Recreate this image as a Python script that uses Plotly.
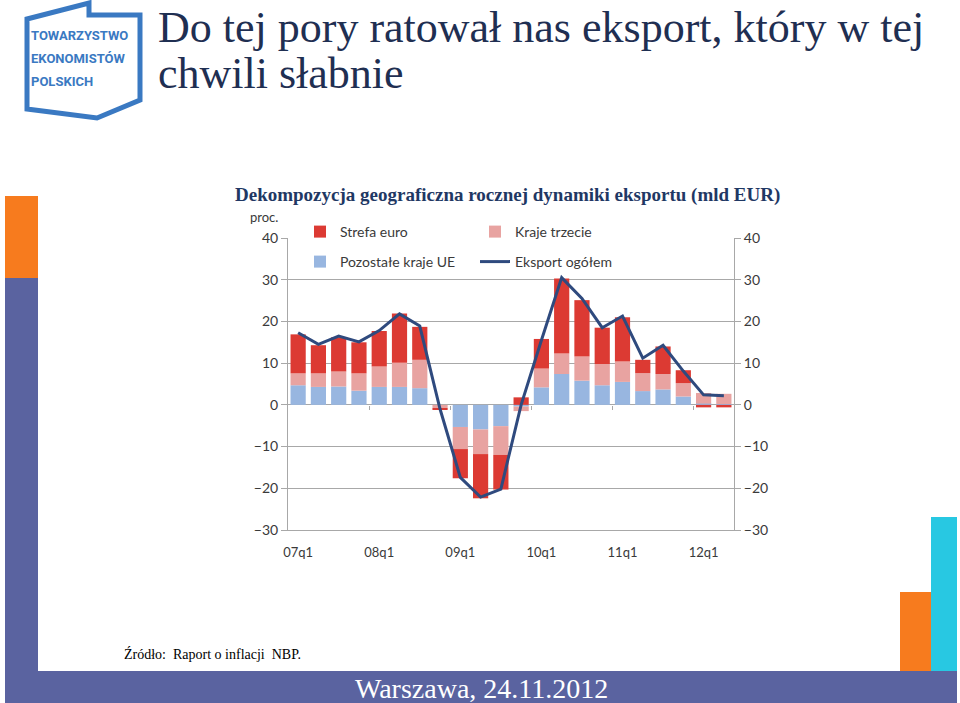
import plotly.graph_objects as go

# ---------------- data ----------------
quarters = ['07q1', '07q2', '07q3', '07q4', '08q1', '08q2', '08q3', '08q4',
            '09q1', '09q2', '09q3', '09q4', '10q1', '10q2', '10q3', '10q4',
            '11q1', '11q2', '11q3', '11q4', '12q1', '12q2']
year_labels = ['07q1', '08q1', '09q1', '10q1', '11q1', '12q1']

pozostale_kraje_ue = [4.7, 4.3, 4.4, 3.4, 4.3, 4.3, 4.0, 0.0,
                      -5.3, -5.9, -5.1, -0.4, 4.2, 7.4, 5.8, 4.7,
                      5.5, 3.3, 3.7, 2.0, 0.3, 0.2]
kraje_trzecie = [2.85, 3.25, 3.6, 4.15, 4.9, 5.8, 6.8, -0.8,
                 -5.3, -5.9, -6.9, -1.1, 4.5, 4.9, 5.8, 5.1,
                 4.9, 4.3, 3.7, 3.2, 2.55, 2.45]
strefa_euro = [9.35, 6.75, 8.2, 7.45, 8.5, 11.8, 7.9, -0.3,
               -7.0, -10.6, -8.3, 1.8, 7.1, 18.0, 13.5, 8.7,
               10.6, 3.2, 6.6, 3.1, -0.6, -0.6]
eksport_ogolem = [17.3, 14.5, 16.5, 15.1, 17.8, 21.8, 18.9, -1.0,
                  -17.4, -22.1, -20.2, 0.0, 15.5, 30.5, 25.5, 18.5,
                  21.3, 11.2, 14.3, 8.1, 2.4, 2.2]
y_ticks = [-30, -20, -10, 0, 10, 20, 30, 40]
logo_lines = ['TOWARZYSTWO', 'EKONOMISTÓW', 'POLSKICH']

# ---------------- geometry helpers (page pixels -> paper) ----------------
W, H = 960, 703
L, R, T, B = 288, 734, 238, 530
Y_MIN, Y_MAX = -30, 40


def px(x):
    return (x - L) / (R - L)


def py(y):
    return (B - y) / (B - T)


RED = '#dc3a33'
PINK = '#e8a3a1'
BLUE = '#98b6e0'
NAVY = '#2f4a7e'
GRID = '#a8a8a8'
TXT = '#3a3a3a'
PURPLE = '#5a63a0'
ORANGE = '#f77b1e'
CYAN = '#28c8e2'
LOGO = '#3a79c2'

fig = go.Figure()
fig.add_trace(go.Bar(x=quarters, y=pozostale_kraje_ue, name='Pozostałe kraje UE',
                     marker=dict(color=BLUE, line=dict(width=0)),
                     legend='legend2', legendrank=3))
fig.add_trace(go.Bar(x=quarters, y=kraje_trzecie, name='Kraje trzecie',
                     marker=dict(color=PINK, line=dict(width=0)),
                     legend='legend', legendrank=2))
fig.add_trace(go.Bar(x=quarters, y=strefa_euro, name='Strefa euro',
                     marker=dict(color=RED, line=dict(width=0)),
                     legend='legend', legendrank=1))
fig.add_trace(go.Scatter(x=quarters, y=eksport_ogolem, name='Eksport ogółem',
                         mode='lines', line=dict(color=NAVY, width=3),
                         yaxis='y2', legend='legend2', legendrank=4))
# helper (empty) trace so that the zero-line tick axis is drawn
fig.add_trace(go.Scatter(x=[None], y=[None], xaxis='x2', yaxis='y',
                         showlegend=False, hoverinfo='skip'))

n = len(quarters)
year_breaks = [i - 0.5 for i in range(4, n, 4)]

axis_font = dict(family='Lato, Open Sans, sans-serif', size=14, color=TXT)

fig.update_layout(
    width=W, height=H,
    margin=dict(l=L, r=W - R, t=T, b=H - B, pad=0),
    paper_bgcolor='white', plot_bgcolor='white',
    barmode='relative', bargap=0.25,
    font=axis_font,
    xaxis=dict(type='category', range=[-0.5, n - 0.5],
               tickmode='array', tickvals=year_labels, ticktext=year_labels,
               ticks='', showgrid=False, zeroline=False,
               showline=True, linecolor=GRID, linewidth=1,
               tickfont=dict(size=13, color=TXT), ticklabelstandoff=10),
    xaxis2=dict(overlaying='x', anchor='free', position=(0 - Y_MIN) / (Y_MAX - Y_MIN),
                range=[-0.5, n - 0.5], tickmode='array', tickvals=year_breaks,
                ticks='outside', ticklen=4, tickcolor=GRID, tickwidth=1,
                showticklabels=False, showgrid=False, zeroline=False, showline=False),
    yaxis=dict(range=[Y_MIN, Y_MAX], tickmode='array', tickvals=y_ticks,
               ticks='outside', ticklen=6, tickcolor=GRID,
               showgrid=True, gridcolor=GRID, gridwidth=1,
               zeroline=True, zerolinecolor=GRID, zerolinewidth=1,
               showline=True, linecolor=GRID, linewidth=1,
               tickfont=dict(size=14, color=TXT)),
    yaxis2=dict(range=[Y_MIN, Y_MAX], overlaying='y', side='right', anchor='x',
                tickmode='array', tickvals=y_ticks,
                ticks='outside', ticklen=6, tickcolor=GRID,
                showgrid=False, zeroline=False,
                showline=True, linecolor=GRID, linewidth=1,
                tickfont=dict(size=14, color=TXT)),
    legend=dict(orientation='h', x=px(300), y=py(232), xanchor='left', yanchor='middle',
                entrywidth=130, entrywidthmode='pixels', bgcolor='rgba(0,0,0,0)',
                font=dict(family='Lato, sans-serif', size=14, color=TXT),
                traceorder='normal', itemclick=False),
    legend2=dict(orientation='h', x=px(300), y=py(262), xanchor='left', yanchor='middle',
                 entrywidth=130, entrywidthmode='pixels', bgcolor='rgba(0,0,0,0)',
                 font=dict(family='Lato, sans-serif', size=14, color=TXT),
                 traceorder='normal', itemclick=False),
    showlegend=True,
)

serif = 'Liberation Serif, DejaVu Serif, serif'
anns = [
    dict(text='Do tej pory ratował nas eksport, który w tej', x=px(156), y=py(27),
         xanchor='left', yanchor='middle', font=dict(family=serif, size=44, color='#1f2f52')),
    dict(text='chwili słabnie', x=px(156), y=py(73),
         xanchor='left', yanchor='middle', font=dict(family=serif, size=44, color='#1f2f52')),
    dict(text='<b>Dekompozycja geograficzna rocznej dynamiki eksportu (mld EUR)</b>',
         x=px(507), y=py(195), xanchor='center', yanchor='middle',
         font=dict(family=serif, size=19, color='#1f3864')),
    dict(text='proc.', x=px(248), y=py(217), xanchor='left', yanchor='middle',
         font=dict(family='Lato, sans-serif', size=13, color=TXT)),
    dict(text='Źródło:  Raport o inflacji  NBP.', x=px(122), y=py(654), xanchor='left',
         yanchor='middle', font=dict(family=serif, size=14, color='black')),
    dict(text='Warszawa, 24.11.2012', x=px(481), y=py(688), xanchor='center',
         yanchor='middle', font=dict(family=serif, size=28, color='white')),
]
for line, yc in zip(logo_lines, [36, 58, 81]):
    anns.append(dict(text=f'<b>{line}</b>', x=px(29), y=py(yc), xanchor='left',
                     yanchor='middle',
                     font=dict(family='Roboto, sans-serif', size=13, color=LOGO)))
for a in anns:
    a.update(xref='paper', yref='paper', showarrow=False)
    fig.add_annotation(**a)


def rect(x0, y0, x1, y1, color):
    fig.add_shape(type='rect', xref='paper', yref='paper',
                  x0=px(x0), x1=px(x1), y0=py(y0), y1=py(y1),
                  fillcolor=color, line=dict(width=0), layer='below')


rect(5, 196, 38, 278, ORANGE)
rect(5, 278, 38, 703, PURPLE)
rect(5, 671, 957, 703, PURPLE)
rect(900, 592, 931, 671, ORANGE)
rect(931, 517, 957, 671, CYAN)

# logo outline (house shape)
house = [(27, 19), (89, 3), (89, 15), (140, 15), (140, 100), (97, 118), (27, 109)]
path = 'M ' + ' L '.join(f'{px(x):.5f},{py(y):.5f}' for x, y in house) + ' Z'
fig.add_shape(type='path', xref='paper', yref='paper', path=path,
              line=dict(color=LOGO, width=5), fillcolor='rgba(0,0,0,0)')

fig.write_html('out.html', config={'displayModeBar': False},
               post_script="document.body.style.margin='0';document.body.style.overflow='hidden';")
